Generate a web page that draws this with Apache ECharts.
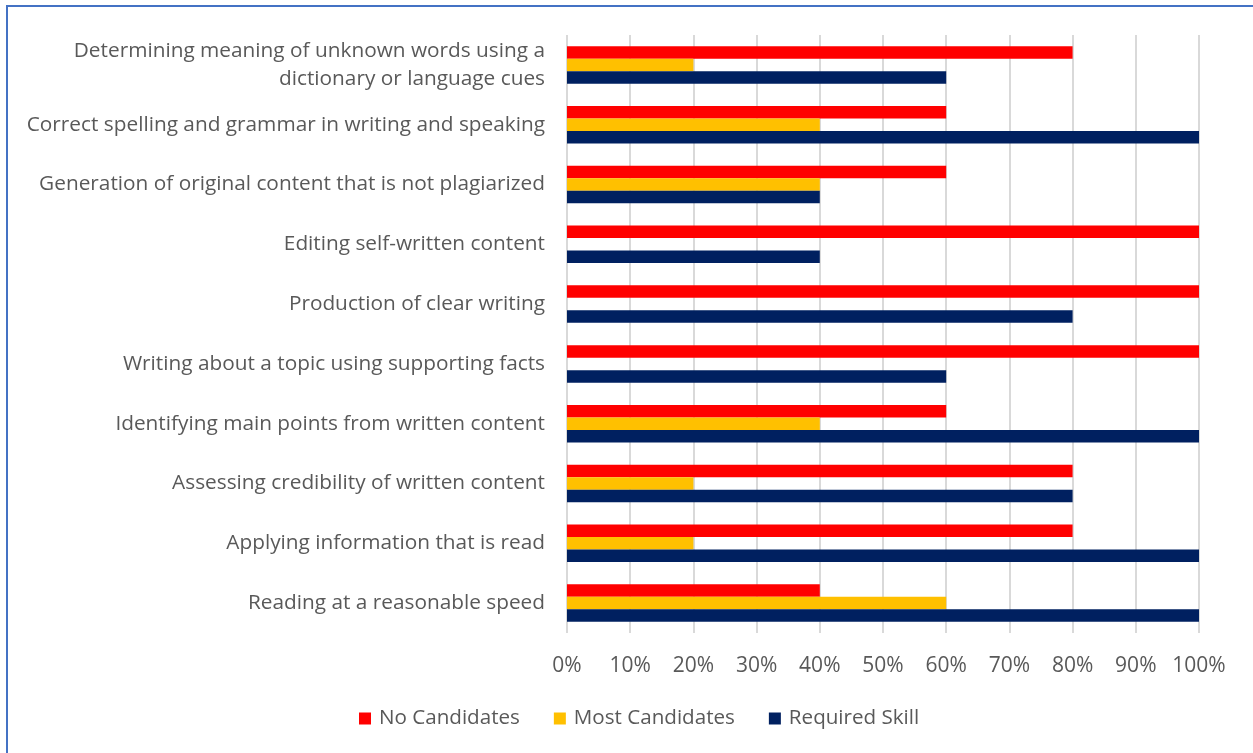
<!DOCTYPE html>
<html>
<head>
<meta charset="utf-8">
<script src="https://cdn.jsdelivr.net/npm/echarts@6/dist/echarts.min.js"></script>
<style>
  html, body { margin: 0; padding: 0; background: #fff; }
  #frame { position: absolute; left: 6px; top: 5px; width: 1260px; height: 760px; border: 2px solid #4472C4; box-sizing: border-box; }
  #chart { position: absolute; left: 0; top: 0; width: 1253px; height: 753px; }
</style>
</head>
<body>
<div id="frame"></div>
<div id="chart"></div>
<script>
// skill categories, top to bottom
var categories = [
  "Determining meaning of unknown words using a\ndictionary or language cues",
  "Correct spelling and grammar in writing and speaking",
  "Generation of original content that is not plagiarized",
  "Editing self-written content",
  "Production of clear writing",
  "Writing about a topic using supporting facts",
  "Identifying main points from written content",
  "Assessing credibility of written content",
  "Applying information that is read",
  "Reading at a reasonable speed"
];
var noCandidates = [80, 60, 60, 100, 100, 100, 60, 80, 80, 40];
var mostCandidates = [20, 40, 40, 0, 0, 0, 40, 20, 20, 60];
var requiredSkill = [60, 100, 40, 40, 80, 60, 100, 80, 100, 100];
var seriesNames = ["No Candidates", "Most Candidates", "Required Skill"];

var font = "'Open Sans', Lato, sans-serif";
var myChart = echarts.init(document.getElementById("chart"));

function bar(name, data, color) {
  return {
    name: name,
    type: "bar",
    data: data,
    barWidth: 12.5,
    barGap: "0%",
    itemStyle: { color: color },
    emphasis: { disabled: true }
  };
}

var option = {
  animation: false,
  textStyle: { fontFamily: font },
  grid: { left: 567, right: 54, top: 35, bottom: 120, containLabel: false },
  legend: {
    bottom: 19,
    left: 354,
    itemWidth: 12,
    itemHeight: 12,
    itemGap: 34,
    icon: "rect",
    textStyle: { fontSize: 20.6, color: "#595959", fontFamily: font, padding: [0, 0, 0, 3] },
    data: seriesNames
  },
  xAxis: {
    type: "value",
    min: 0,
    max: 100,
    interval: 10,
    axisLabel: { formatter: "{value}%", fontSize: 21, color: "#595959", margin: 23 },
    splitLine: { lineStyle: { color: "#D9D9D9", width: 2 } },
    axisLine: { show: false },
    axisTick: { show: false }
  },
  yAxis: {
    type: "category",
    inverse: true,
    data: categories,
    axisLabel: { fontSize: 20.8, color: "#595959", margin: 22, lineHeight: 28, align: "right" },
    axisLine: { show: false },
    axisTick: { show: false }
  },
  series: [
    bar(seriesNames[0], noCandidates, "#FF0000"),
    bar(seriesNames[1], mostCandidates, "#FFC000"),
    bar(seriesNames[2], requiredSkill, "#002060")
  ]
};

myChart.setOption(option);
</script>
</body>
</html>
